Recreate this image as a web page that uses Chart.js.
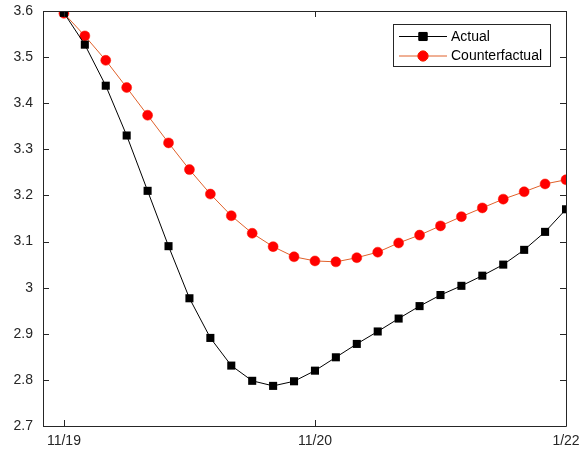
<!DOCTYPE html>
<html>
<head>
<meta charset="utf-8">
<script src="https://cdn.jsdelivr.net/npm/chart.js@4/dist/chart.umd.min.js"></script>
<style>
  html, body { margin: 0; padding: 0; background: #fff; }
  #wrap { width: 581px; height: 454px; }
</style>
</head>
<body>
<div id="wrap"><canvas id="line"></canvas></div>
<script>
// monthly path, index 0 = 11/19 ... 24 = 1/22
var tickPos = [0, 12, 24];
var tickLabels = ['11/19', '11/20', '1/22'];

var actual = [3.596, 3.527, 3.438, 3.330, 3.210, 3.090, 2.977, 2.891, 2.831, 2.798,
              2.787, 2.797, 2.820, 2.849, 2.878, 2.905, 2.933, 2.960, 2.984, 3.004,
              3.026, 3.050, 3.082, 3.121, 3.170];
var counterfactual = [3.595, 3.546, 3.493, 3.434, 3.374, 3.314, 3.256, 3.203, 3.156, 3.118,
                      3.089, 3.067, 3.058, 3.056, 3.065, 3.077, 3.097, 3.114, 3.134, 3.154,
                      3.173, 3.192, 3.208, 3.225, 3.234];

var axisColor = '#262626';
var font = 'Liberation Sans, Arial, Helvetica, sans-serif';

function toXY(arr) {
    return arr.map(function (v, i) { return { x: i, y: v }; });
}

// box around the axes with inward ticks on all four sides
var boxPlugin = {
    id: 'box',
    afterDatasetsDraw: function (chart) {
        var ctx = chart.ctx, a = chart.chartArea;
        var xs = chart.scales.x, ys = chart.scales.y;
        var len = 6;
        ctx.save();
        ctx.strokeStyle = axisColor;
        ctx.lineWidth = 1;
        ctx.beginPath();
        ctx.rect(Math.round(a.left) + 0.5, Math.round(a.top) + 0.5,
                 Math.round(a.right - a.left), Math.round(a.bottom - a.top));
        ys.ticks.forEach(function (t) {
            var y = Math.round(ys.getPixelForValue(t.value)) + 0.5;
            ctx.moveTo(a.left, y); ctx.lineTo(a.left + len, y);
            ctx.moveTo(a.right, y); ctx.lineTo(a.right - len, y);
        });
        xs.ticks.forEach(function (t) {
            var x = Math.round(xs.getPixelForValue(t.value)) + 0.5;
            ctx.moveTo(x, a.bottom); ctx.lineTo(x, a.bottom - len);
            ctx.moveTo(x, a.top); ctx.lineTo(x, a.top + len);
        });
        ctx.stroke();
        ctx.restore();
    }
};

// legend box in the upper right corner
var legendPlugin = {
    id: 'boxLegend',
    afterDraw: function (chart) {
        var ctx = chart.ctx;
        var x0 = 393.5, y0 = 24.5, w = 157, h = 42;
        ctx.save();
        ctx.fillStyle = '#fff';
        ctx.fillRect(x0, y0, w, h);
        ctx.strokeStyle = axisColor;
        ctx.lineWidth = 1;
        ctx.strokeRect(x0, y0, w, h);
        ctx.font = '14px ' + font;
        ctx.textBaseline = 'middle';
        chart.data.datasets.forEach(function (ds, i) {
            var y = 36.5 + i * 19.5;
            ctx.strokeStyle = ds.borderColor;
            ctx.lineWidth = 1;
            ctx.beginPath();
            ctx.moveTo(399, y); ctx.lineTo(447, y);
            ctx.stroke();
            Chart.helpers.drawPoint(ctx, {
                pointStyle: ds.pointStyle,
                radius: ds.pointRadius,
                borderWidth: 1
            }, 423, y);
            ctx.fillStyle = ds.pointBackgroundColor;
            ctx.strokeStyle = ds.pointBorderColor;
            ctx.fill();
            ctx.stroke();
            ctx.fillStyle = '#000';
            ctx.fillText(ds.label, 451, y + 0.5);
        });
        ctx.restore();
    }
};

var ctx = document.getElementById('line').getContext('2d');
var lineChart = new Chart(ctx, {
    type: 'line',
    data: {
        datasets: [{
            label: 'Actual',
            data: toXY(actual),
            borderColor: '#000000',
            borderWidth: 1,
            pointStyle: 'rect',
            pointRadius: 5.7,
            pointBackgroundColor: '#000000',
            pointBorderColor: '#000000',
            pointBorderWidth: 0
        }, {
            label: 'Counterfactual',
            data: toXY(counterfactual),
            borderColor: '#e0602a',
            borderWidth: 1,
            pointStyle: 'circle',
            pointRadius: 5,
            pointBackgroundColor: '#ff0000',
            pointBorderColor: '#ff1a00',
            pointBorderWidth: 0.5
        }]
    },
    options: {
        responsive: true,
        maintainAspectRatio: false,
        animation: false,
        layout: { padding: { left: 0, right: 15, top: 11, bottom: 0 } },
        plugins: {
            legend: { display: false },
            tooltip: { enabled: false }
        },
        scales: {
            x: {
                type: 'linear',
                min: -1,
                max: 24,
                grid: { display: false, drawTicks: false },
                border: { display: false },
                afterBuildTicks: function (scale) {
                    scale.ticks = tickPos.map(function (v) { return { value: v }; });
                },
                afterFit: function (scale) {
                    scale.height = 28;
                    scale.paddingLeft = 0;
                    scale.paddingRight = 0;
                },
                ticks: {
                    autoSkip: false,
                    maxRotation: 0,
                    padding: 7,
                    color: axisColor,
                    font: { family: font, size: 14 },
                    callback: function (v) { return tickLabels[tickPos.indexOf(v)]; }
                }
            },
            y: {
                min: 2.7,
                max: 3.6,
                grid: { display: false, drawTicks: false },
                border: { display: false },
                afterFit: function (scale) {
                    scale.width = 43;
                    scale.paddingTop = 0;
                    scale.paddingBottom = 0;
                },
                ticks: {
                    stepSize: 0.1,
                    padding: 10,
                    color: axisColor,
                    font: { family: font, size: 14 },
                    callback: function (v) { return String(Math.round(v * 10) / 10); }
                }
            }
        }
    },
    plugins: [boxPlugin, legendPlugin]
});
</script>
</body>
</html>
